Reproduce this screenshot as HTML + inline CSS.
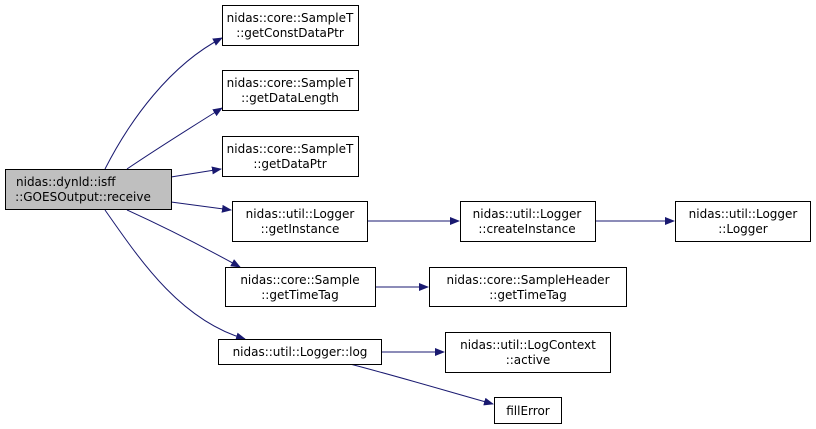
<!DOCTYPE html>
<html><head><style>body{margin:0;background:#fff}svg{display:block}text{font-family:"DejaVu Sans",sans-serif;font-size:12px;fill:#000}</style></head><body>
<svg width="816" height="429" viewBox="0 0 816 429" xmlns="http://www.w3.org/2000/svg">
<defs><marker id="a" markerWidth="10" markerHeight="8" refX="9" refY="4" orient="auto" markerUnits="userSpaceOnUse"><path d="M0,0 L10,4 L0,8 z" fill="#191970"/></marker></defs>
<g fill="none" stroke="#191970" stroke-width="1" marker-end="url(#a)">
<path d="M105,169 C130,120 170,65 222,38"/>
<path d="M127,169 C155,150 190,128 222,108"/>
<path d="M171,177 L221,169"/>
<path d="M171,202 L231,210"/>
<path d="M127,210 C160,225 200,245 240,267"/>
<path d="M105,210 C140,260 180,320 245,339"/>
<path d="M367,221 L459,221"/>
<path d="M595,221 L674,221"/>
<path d="M375,287 L428,287"/>
<path d="M381,352 L444,352"/>
<path d="M350,364 C400,377 450,392 493,404"/>
</g>
<g stroke="#000" stroke-width="1" fill="#fff">
<rect x="5.5" y="169.5" width="166" height="40" fill="#bfbfbf"/>
<rect x="222.5" y="5.5" width="136" height="40"/>
<rect x="222.5" y="70.5" width="136" height="40"/>
<rect x="222.5" y="136.5" width="136" height="40"/>
<rect x="232.5" y="201.5" width="135" height="40"/>
<rect x="225.5" y="267.5" width="150" height="39"/>
<rect x="218.5" y="339.5" width="163" height="25"/>
<rect x="460.5" y="201.5" width="135" height="40"/>
<rect x="675.5" y="201.5" width="135" height="40"/>
<rect x="429.5" y="267.5" width="197" height="39"/>
<rect x="445.5" y="332.5" width="165" height="40"/>
<rect x="494.5" y="397.5" width="67" height="26"/>
</g>
<text x="16" y="186">nidas::dynld::isff</text>
<g text-anchor="middle">
<text x="83" y="201">::GOESOutput::receive</text>
<text x="290" y="22">nidas::core::SampleT</text><text x="290" y="37">::getConstDataPtr</text>
<text x="290" y="87">nidas::core::SampleT</text><text x="290" y="102">::getDataLength</text>
<text x="290" y="153">nidas::core::SampleT</text><text x="290" y="168">::getDataPtr</text>
<text x="300" y="218">nidas::util::Logger</text><text x="300" y="233">::getInstance</text>
<text x="300" y="284">nidas::core::Sample</text><text x="300" y="299">::getTimeTag</text>
<text x="300" y="356">nidas::util::Logger::log</text>
<text x="527" y="218">nidas::util::Logger</text><text x="527" y="233">::createInstance</text>
<text x="743" y="218">nidas::util::Logger</text><text x="743" y="233">::Logger</text>
<text x="528" y="284">nidas::core::SampleHeader</text><text x="528" y="299">::getTimeTag</text>
<text x="528" y="349">nidas::util::LogContext</text><text x="528" y="364">::active</text>
<text x="528" y="415">fillError</text>
</g>
</svg>
</body></html>
